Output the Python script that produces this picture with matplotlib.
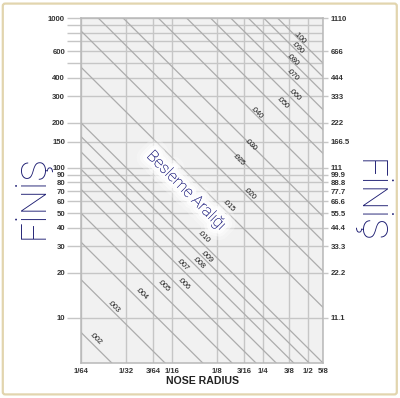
import matplotlib
matplotlib.use("Agg")
import matplotlib.pyplot as plt
import matplotlib.patheffects as pe
from matplotlib.ticker import FixedLocator, NullLocator, NullFormatter
from matplotlib.patches import FancyBboxPatch

# nose radius axis (inch)
nose_r = [1/64, 1/32, 3/64, 1/16, 1/8, 3/16, 1/4, 3/8, 1/2, 5/8]
nose_labels = ["1/64", "1/32", "3/64", "1/16", "1/8", "3/16", "1/4", "3/8", "1/2", "5/8"]

# finish axis (left: Ra, right: RMS)
finish_ticks = [1000, 600, 400, 300, 200, 150, 100, 90, 80, 70, 60, 50, 40, 30, 20, 10]
finish_minor = [900, 800, 700, 500]
rms_ticks = [1110, 666, 444, 333, 222, 166.5, 111, 99.9, 88.8, 77.7, 66.6, 55.5, 44.4, 33.3, 22.2, 11.1]

# feed lines: finish read at r=1/64 and r=5/8
feeds = [".002", ".003", ".004", ".005", ".006", ".007", ".008", ".009", ".010",
         ".015", ".020", ".025", ".030", ".040", ".050", ".060", ".070", ".080", ".090", ".100"]
ra_left = [8, 18, 32, 50, 72, 98, 128, 162, 200,
           470, 820, 1300, 1900, 3250, 5000, 7200, 9800, 12800, 16200, 20000]
ra_right = [0.2, 0.45, 0.8, 1.25, 1.8, 2.45, 3.2, 4.05, 5.0,
            11.75, 20.5, 32.5, 47.5, 81, 125, 180, 245, 320, 405, 500]

# where the feed labels sit
label_r = [0.0193, 0.0254, 0.039, 0.0545, 0.0739, 0.0728, 0.0929, 0.1049, 0.1002,
           0.1467, 0.202, 0.171, 0.205, 0.228, 0.334, 0.407, 0.389, 0.395, 0.426, 0.439]
label_ra = [7.24, 11.8, 14.45, 16.3, 16.9, 22.6, 23.3, 25.5, 34.7,
            55.8, 67.1, 113, 142, 233, 271, 307, 417, 525, 631, 736]

navy = "#1d1d72"
grid_c = "#c6c6c6"

fig = plt.figure(figsize=(4.0, 3.98), dpi=100)
fig.patch.set_facecolor("white")
frame = FancyBboxPatch((0.007, 0.009), 0.985, 0.982, boxstyle="round,pad=0,rounding_size=0.006",
                       transform=fig.transFigure, facecolor="white", edgecolor="#e2d5ae",
                       lw=1.6, zorder=-5)
fig.patches.append(frame)

ax = fig.add_axes([0.2025, 0.0879, 0.605, 0.8668])
ax.set_facecolor("#f1f1f1")
ax.set_xscale("log", base=2)
ax.set_yscale("log")
ax.set_xlim(1/64, 5/8)
ax.set_ylim(5, 1000)

for i in range(len(feeds)):
    ax.plot([nose_r[0], nose_r[-1]], [ra_left[i], ra_right[i]], color="#acacac", lw=0.9, zorder=1.5)
    ax.text(label_r[i], label_ra[i], feeds[i], rotation=-45, ha="center", va="center",
            fontsize=5.2, family="Liberation Sans", color="#111111", zorder=5)

ax.set_xticks(nose_r, labels=nose_labels)
ax.xaxis.set_minor_locator(NullLocator())
ax.tick_params(axis="x", length=0, pad=3.5, labelsize=5.6, labelcolor="#333333")

ax.set_yticks(finish_ticks, labels=[str(v) for v in finish_ticks])
ax.yaxis.set_minor_locator(FixedLocator(finish_minor))
ax.yaxis.set_minor_formatter(NullFormatter())
ax.tick_params(axis="y", which="both", length=10, width=1.0, color=grid_c, pad=1.5,
               labelsize=5.6, labelcolor="#333333")
for lab in ax.get_xticklabels() + ax.get_yticklabels():
    lab.set_family("Liberation Sans")
    lab.set_fontweight("bold")

ax.grid(True, which="both", color=grid_c, lw=1.0)
ax.set_axisbelow(True)
for s in ax.spines.values():
    s.set_color("#b8b8b8")
    s.set_linewidth(1.1)

sec = ax.secondary_yaxis("right", functions=(lambda y: y * 1.11, lambda y: y / 1.11))
sec.set_yticks(rms_ticks, labels=[str(v) for v in rms_ticks])
sec.yaxis.set_minor_locator(NullLocator())
sec.tick_params(axis="y", length=3.6, width=1.0, color=grid_c, pad=2,
                labelsize=5.6, labelcolor="#333333")
sec.spines["right"].set_visible(False)
for lab in sec.get_yticklabels():
    lab.set_family("Liberation Sans")
    lab.set_fontweight("bold")

ax.set_xlabel("NOSE RADIUS", fontsize=7.6, fontweight="bold", family="Liberation Sans",
              color="#222222", labelpad=1)

glow = [pe.withStroke(linewidth=w, foreground="white", alpha=a)
        for w, a in [(15, 0.25), (10, 0.45), (6, 0.7), (3, 0.95)]] + [pe.Normal()]
ax.text(0.435, 0.5, "Besleme Aralığı", transform=ax.transAxes, rotation=-45,
        ha="center", va="center", fontsize=11.5, family="Roboto", fontweight="light",
        color="#2a2a85", path_effects=glow, zorder=4)

fig.text(0.08, 0.505, "FİNİŞ", rotation=90, ha="center", va="center", fontsize=25,
         family="Roboto", fontweight="light", color=navy)
fig.text(0.926, 0.497, "FİNİŞ", rotation=-90, ha="center", va="center", fontsize=25,
         family="Roboto", fontweight="light", color=navy)

plt.savefig("out.png", dpi=100)
